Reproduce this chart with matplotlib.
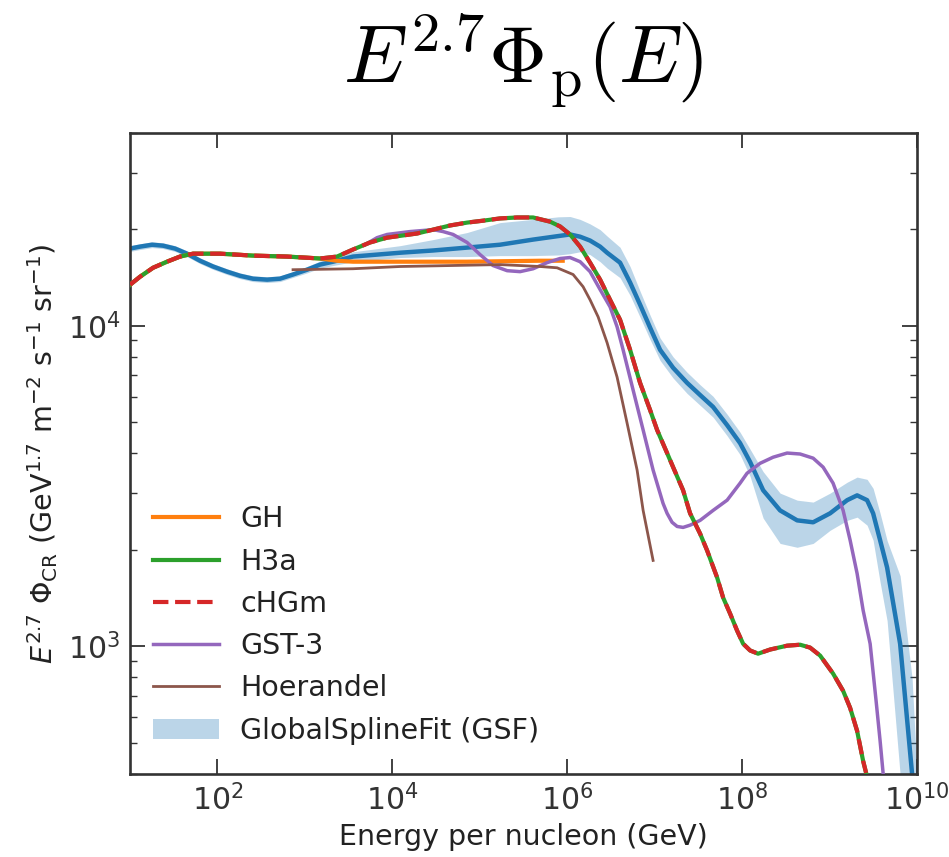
import numpy as np
import matplotlib
matplotlib.use("Agg")
import matplotlib.pyplot as plt

# ---------------- data (log10 units) ----------------
# GlobalSplineFit (GSF): centre line with upper / lower edge of its band
gsf_logE = [1.000, 1.114, 1.252, 1.378, 1.515, 1.652, 1.801, 1.950, 2.110, 2.259,
            2.407, 2.568, 2.716, 2.865, 3.025, 3.174, 3.323, 3.551, 4.089, 4.467,
            4.856, 5.233, 5.611, 5.900, 6.034, 6.149, 6.263, 6.378, 6.458, 6.606,
            6.721, 6.835, 6.950, 7.064, 7.213, 7.373, 7.522, 7.670, 7.831, 7.979,
            8.094, 8.243, 8.437, 8.632, 8.815, 9.009, 9.204, 9.318, 9.432, 9.501,
            9.581, 9.661, 9.810, 9.947, 10.000]
gsf_logF = [4.241, 4.247, 4.253, 4.250, 4.241, 4.225, 4.203, 4.185, 4.169, 4.156,
            4.147, 4.144, 4.147, 4.160, 4.175, 4.191, 4.200, 4.216, 4.228, 4.235,
            4.244, 4.253, 4.269, 4.280, 4.285, 4.278, 4.266, 4.247, 4.228, 4.197,
            4.135, 4.066, 3.994, 3.925, 3.869, 3.822, 3.784, 3.747, 3.690, 3.634,
            3.575, 3.487, 3.424, 3.393, 3.387, 3.415, 3.456, 3.471, 3.456, 3.415,
            3.331, 3.246, 3.008, 2.602, 2.450]
gsf_logF_hi = [4.250, 4.256, 4.262, 4.259, 4.250, 4.234, 4.212, 4.194, 4.178, 4.165,
               4.156, 4.153, 4.156, 4.169, 4.185, 4.202, 4.212, 4.231, 4.250, 4.269,
               4.291, 4.322, 4.332, 4.340, 4.341, 4.332, 4.318, 4.300, 4.280, 4.245,
               4.185, 4.108, 4.033, 3.962, 3.903, 3.855, 3.816, 3.780, 3.724, 3.668,
               3.615, 3.545, 3.478, 3.456, 3.450, 3.478, 3.512, 3.528, 3.521, 3.493,
               3.415, 3.330, 3.220, 2.900, 2.620]
gsf_logF_lo = [4.232, 4.238, 4.244, 4.241, 4.232, 4.216, 4.194, 4.176, 4.160, 4.147,
               4.138, 4.135, 4.138, 4.151, 4.165, 4.180, 4.188, 4.200, 4.213, 4.216,
               4.216, 4.219, 4.219, 4.221, 4.225, 4.231, 4.222, 4.200, 4.180, 4.150,
               4.095, 4.027, 3.957, 3.892, 3.837, 3.789, 3.752, 3.715, 3.657, 3.598,
               3.530, 3.400, 3.321, 3.309, 3.321, 3.362, 3.393, 3.403, 3.378, 3.331,
               3.200, 3.080, 2.600, 2.300, 2.200]

# H3a and cHGm (identical curves)
h3a_logE = [1.000, 1.114, 1.263, 1.423, 1.572, 1.721, 1.881, 2.030, 2.407, 2.796,
            3.174, 3.368, 3.551, 3.746, 3.941, 4.284, 4.467, 4.661, 4.856,
            5.039, 5.233, 5.428, 5.611, 5.805, 5.920, 6.034, 6.149, 6.263, 6.378,
            6.492, 6.606, 6.721, 6.835, 6.950, 7.030, 7.144, 7.213, 7.327, 7.407,
            7.521, 7.602, 7.716, 7.785, 7.865, 7.945, 8.014, 8.094, 8.185, 8.323,
            8.517, 8.666, 8.780, 8.895, 9.043, 9.158, 9.238, 9.318, 9.387, 9.421]
h3a_logF = [4.128, 4.153, 4.181, 4.200, 4.216, 4.225, 4.225, 4.225, 4.219, 4.216,
            4.210, 4.216, 4.238, 4.260, 4.275, 4.288, 4.300, 4.313, 4.322,
            4.328, 4.335, 4.338, 4.338, 4.325, 4.310, 4.285, 4.247, 4.197, 4.144,
            4.081, 4.019, 3.925, 3.822, 3.737, 3.675, 3.603, 3.559, 3.487, 3.415,
            3.352, 3.299, 3.215, 3.152, 3.102, 3.049, 3.008, 2.987, 2.977, 2.990,
            3.002, 3.005, 2.996, 2.971, 2.915, 2.861, 2.808, 2.736, 2.642, 2.605]
chgm_logE = h3a_logE
chgm_logF = h3a_logF

# GH
gh_logE = [1.000, 1.114, 1.263, 1.423, 1.572, 1.721, 1.881, 2.030, 2.407, 2.796,
           3.174, 3.368, 3.551, 4.089, 4.856, 5.691, 5.950]
gh_logF = [4.128, 4.153, 4.181, 4.200, 4.216, 4.225, 4.225, 4.225, 4.219, 4.216,
           4.210, 4.203, 4.200, 4.200, 4.200, 4.203, 4.203]

# GST-3
gst_logE = [3.689, 3.826, 3.941, 4.204, 4.467, 4.581, 4.696, 4.856, 5.005, 5.153,
            5.314, 5.462, 5.611, 5.771, 5.920, 6.034, 6.149, 6.263, 6.378, 6.492,
            6.572, 6.641, 6.755, 6.870, 6.984, 7.098, 7.144, 7.201, 7.259, 7.327,
            7.407, 7.522, 7.670, 7.831, 7.979, 8.059, 8.208, 8.357, 8.517, 8.666,
            8.815, 8.929, 9.043, 9.158, 9.238, 9.318, 9.387, 9.467, 9.535, 9.581,
            9.616]
gst_logF = [4.253, 4.275, 4.285, 4.294, 4.300, 4.294, 4.285, 4.260, 4.222, 4.188,
            4.172, 4.169, 4.178, 4.197, 4.210, 4.213, 4.200, 4.169, 4.113, 4.059,
            3.997, 3.925, 3.800, 3.675, 3.550, 3.446, 3.415, 3.387, 3.374, 3.371,
            3.378, 3.393, 3.424, 3.456, 3.509, 3.540, 3.571, 3.590, 3.603, 3.600,
            3.587, 3.559, 3.509, 3.424, 3.331, 3.227, 3.112, 3.008, 2.830, 2.705,
            2.602]

# Hoerandel
hoe_logE = [2.865, 3.551, 4.089, 4.661, 5.233, 5.691, 5.886, 6.069, 6.183, 6.263,
            6.355, 6.458, 6.572, 6.686, 6.801, 6.870, 6.984]
hoe_logF = [4.175, 4.178, 4.185, 4.188, 4.191, 4.185, 4.181, 4.160, 4.122, 4.081,
            4.028, 3.947, 3.840, 3.697, 3.550, 3.424, 3.268]

labels = ["GH", "H3a", "cHGm", "GST-3", "Hoerandel", "GlobalSplineFit (GSF)"]
xticks = [1e2, 1e4, 1e6, 1e8, 1e10]


def p10(a):
    return 10.0 ** np.asarray(a)


# ---------------- figure ----------------
fig = plt.figure(figsize=(9.49, 8.57), dpi=100)
ax = fig.add_axes([0.137, 0.097, 0.829, 0.748])

C0, C1, C2, C3, C4, C5 = "#1f77b4", "#ff7f0e", "#2ca02c", "#d62728", "#9467bd", "#8c564b"

ax.plot(p10(gh_logE), p10(gh_logF), color=C1, lw=3.0, label=labels[0], zorder=3)
ax.plot(p10(h3a_logE), p10(h3a_logF), color=C2, lw=3.0, label=labels[1], zorder=4)
ax.plot(p10(chgm_logE), p10(chgm_logF), color=C3, lw=3.0, ls="--", label=labels[2], zorder=5)
ax.plot(p10(gst_logE), p10(gst_logF), color=C4, lw=2.5, label=labels[3], zorder=3)
ax.plot(p10(hoe_logE), p10(hoe_logF), color=C5, lw=2.0, label=labels[4], zorder=3)
ax.fill_between(p10(gsf_logE), p10(gsf_logF_lo), p10(gsf_logF_hi),
                color=C0, alpha=0.3, lw=0, label=labels[5], zorder=2)
ax.plot(p10(gsf_logE), p10(gsf_logF), color=C0, lw=3.2, zorder=2.5)

ax.set_xscale("log")
ax.set_yscale("log")
ax.set_xlim(1e1, 1e10)
ax.set_ylim(400, 4e4)
ax.set_xticks(xticks)
ax.xaxis.set_minor_locator(matplotlib.ticker.NullLocator())

ax.tick_params(which="both", direction="in", top=True, right=True, colors="#333333")
ax.tick_params(which="major", length=11, width=1.3, labelsize=21.5, pad=7)
ax.tick_params(which="minor", length=5, width=1.0)
for s in ax.spines.values():
    s.set_linewidth(1.9)
    s.set_color("#333333")

ax.set_xlabel("Energy per nucleon (GeV)", fontsize=20.5, color="#222222", labelpad=5)
ax.set_ylabel(r"$E^{2.7}\ \Phi_{\rm CR}$ (GeV$^{1.7}$ m$^{-2}$ s$^{-1}$ sr$^{-1}$)",
              fontsize=20.5, color="#222222", labelpad=6)

fig.text(0.5516, 1 - 82 / 857, r"$E^{2.7}\Phi_\mathrm{p}(E)$", fontsize=58,
         math_fontfamily="cm", ha="center", va="baseline")

leg = ax.legend(loc="lower left", frameon=False, fontsize=20.5, handlelength=2.3,
                handletextpad=0.75, labelspacing=0.5, borderaxespad=0.0,
                borderpad=0.4, bbox_to_anchor=(0.015, 0.028))
for t in leg.get_texts():
    t.set_color("#222222")

fig.savefig("out.png", dpi=100)
